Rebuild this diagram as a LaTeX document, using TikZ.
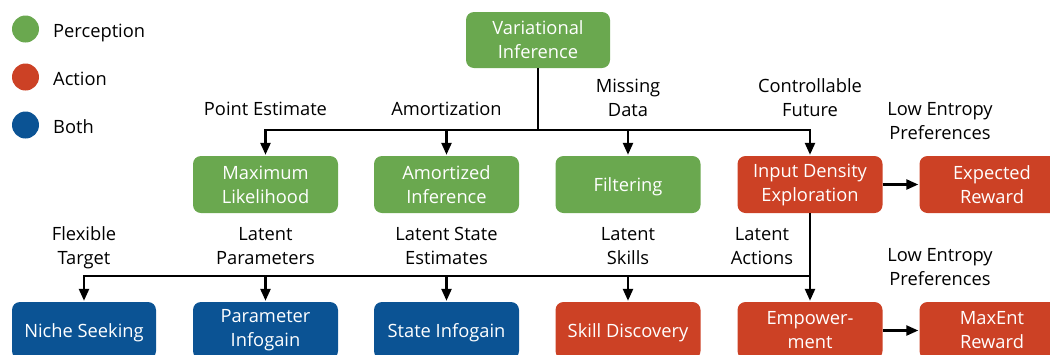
\documentclass[tikz,border=0pt]{standalone}
\usepackage{fontspec}
\setmainfont{Open Sans}
\usetikzlibrary{arrows.meta}
\definecolor{pgreen}{HTML}{6AA84F}
\definecolor{pred}{HTML}{CC4125}
\definecolor{pblue}{HTML}{0B5394}
\tikzset{
  box/.style={rounded corners=8pt, minimum width=145pt, minimum height=57pt, inner sep=0pt, text=white, align=center, font=\fontsize{18.3}{24}\selectfont},
  one/.style={text height=13pt, text depth=0pt},
  gbox/.style={box, fill=pgreen},
  rbox/.style={box, fill=pred},
  bbox/.style={box, fill=pblue},
  lbl/.style={anchor=south, inner sep=0pt, align=center, font=\fontsize{18.3}{24}\selectfont},
  conn/.style={line width=2.4pt, line join=miter},
  arr/.style={conn, -{Triangle[length=12pt,width=10pt]}, shorten >=1pt},
  legc/.style={circle, minimum size=27pt, inner sep=0pt},
  legt/.style={anchor=base west, inner sep=0pt, font=\fontsize{18.3}{24}\selectfont}
}
\begin{document}
\begin{tikzpicture}[x=1pt,y=-1pt]
\useasboundingbox (0,0) rectangle (1050,354);
\clip (0,0) rectangle (1050,354);
% legend
\node[legc, fill=pgreen] (lg) at (25.5,29) {};
\node[legc, fill=pred] (lr) at (25.5,77) {};
\node[legc, fill=pblue] (lb) at (25.5,125) {};
\node[legt] (tg) at (53,37.5) {Perception};
\node[legt] (tr) at (53,85.5) {Action};
\node[legt] (tb) at (53,133.5) {Both};
% nodes
\node[gbox, minimum width=144pt, minimum height=56pt] (vi) at (538,40) {Variational\\Inference};
\node[gbox] (ml) at (265.5,184.5) {Maximum\\Likelihood};
\node[gbox] (ai) at (446.5,184.5) {Amortized\\Inference};
\node[gbox, one] (fi) at (628,184.5) {Filtering};
\node[rbox] (ide) at (810,184.5) {Input Density\\Exploration};
\node[rbox] (er) at (992,184.5) {Expected\\Reward};
\node[bbox, one, minimum width=144pt] (ns) at (84,330.5) {Niche Seeking};
\node[bbox] (pi) at (265.5,330.5) {Parameter\\Infogain};
\node[bbox, one] (si) at (446.5,330.5) {State Infogain};
\node[rbox, one] (sd) at (628,330.5) {Skill Discovery};
\node[rbox] (em) at (810,330.5) {Empower-\\ment};
\node[rbox] (mr) at (992,330.5) {MaxEnt\\Reward};
% labels
\node[lbl] (l1) at (265.5,116) {Point Estimate};
\node[lbl] (l2) at (446.5,116) {Amortization};
\node[lbl] (l3) at (628,117) {Missing\\Data};
\node[lbl] (l4) at (810,117) {Controllable\\Future};
\node[lbl] (l5) at (940,140) {Low Entropy\\Preferences};
\node[lbl] (l6) at (84,269) {Flexible\\Target};
\node[lbl] (l7) at (265.5,264.5) {Latent\\Parameters};
\node[lbl] (l8) at (446.5,264.5) {Latent State\\Estimates};
\node[lbl] (l9) at (628,264.5) {Latent\\Skills};
\node[lbl] (l10) at (762,264.5) {Latent\\Actions};
\node[lbl] (l11) at (940,286) {Low Entropy\\Preferences};
% connectors
\coordinate (j1) at (538,130);
\coordinate (j2) at (810,276);
\draw[conn] (vi.south) -- (j1);
\draw[arr] (j1) -| (ml.north);
\draw[arr] (j1) -| (ai.north);
\draw[arr] (j1) -| (fi.north);
\draw[arr] (j1) -| (ide.north);
\draw[arr] (ide.east) -- (er.west);
\draw[arr] (ide.south) -- (em.north);
\draw[arr] (j2) -| (ns.north);
\draw[arr] (j2) -| (pi.north);
\draw[arr] (j2) -| (si.north);
\draw[arr] (j2) -| (sd.north);
\draw[arr] (em.east) -- (mr.west);
\end{tikzpicture}
\end{document}
